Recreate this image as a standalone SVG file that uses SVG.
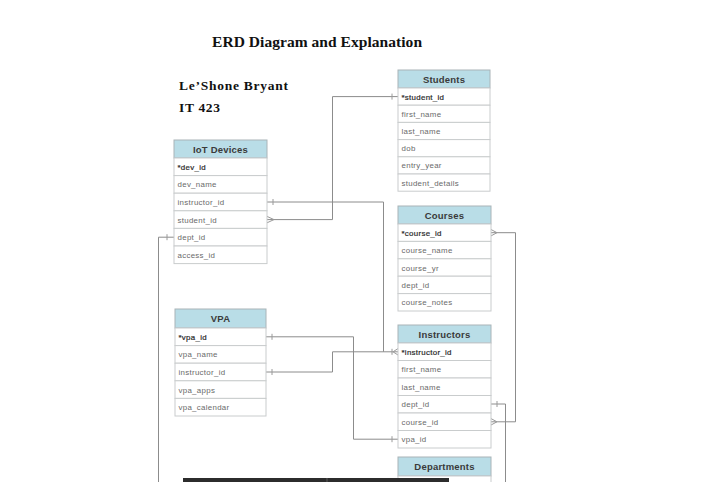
<svg xmlns="http://www.w3.org/2000/svg" width="704" height="482" viewBox="0 0 704 482">
<style>
.hdr{fill:#b9dde7;stroke:#a9b4b8;stroke-width:1}
.row{fill:#ffffff;stroke:#c9cccd;stroke-width:1}
.ht{font-family:"Liberation Sans",Arial,sans-serif;font-size:9.5px;font-weight:bold;fill:#3a3a3a;text-anchor:middle;letter-spacing:0.2px}
.rt{font-family:"Liberation Sans",Arial,sans-serif;font-size:7.9px;fill:#6a6a6a;letter-spacing:0.3px}
.kt{font-family:"Liberation Sans",Arial,sans-serif;font-size:7.9px;fill:#2a2a2a;stroke:#2a2a2a;stroke-width:0.2;letter-spacing:0.3px}
.ttl{font-family:"Liberation Serif","Times New Roman",serif;font-weight:bold;fill:#111}
.ln{fill:none;stroke:#8c8c8c;stroke-width:1}
.mk{fill:none;stroke:#9a9a9a;stroke-width:1}
</style>
<rect width="704" height="482" fill="#ffffff"/>
<text class="ttl" x="212" y="47" font-size="15.5" textLength="210">ERD Diagram and Explanation</text>
<text class="ttl" x="179" y="89.5" font-size="13.5" textLength="109">Le’Shone Bryant</text>
<text class="ttl" x="179" y="112" font-size="13.5" textLength="41">IT 423</text>

<g id="connectors">
  <!-- Students.student_id -> IoT.student_id -->
  <path class="ln" d="M398,96.6 H332.5 V219.6 H267"/>
  <path class="mk" d="M392,93.6 V99.6 M267,216.4 L274,219.6 L267,222.8"/>
  <!-- IoT.instructor_id -> Instructors.instructor_id -->
  <path class="ln" d="M267,202 H383.5 V351.8 H398"/>
  <path class="mk" d="M273,199 V205 M392,348.8 V354.8 M398,348.6 L393,351.8 L398,355"/>
  <!-- VPA.instructor_id -> Instructors.instructor_id -->
  <path class="ln" d="M266,372 H332.5 V351.8 H383.5"/>
  <path class="mk" d="M272,369 V375"/>
  <!-- VPA.vpa_id -> Instructors.vpa_id -->
  <path class="ln" d="M266,336.8 H353.5 V439.2 H398"/>
  <path class="mk" d="M272,333.8 V339.8 M392,436.2 V442.2"/>
  <!-- Courses.course_id -> Instructors.course_id -->
  <path class="ln" d="M491,232.7 H515.5 V421.8 H491"/>
  <path class="mk" d="M491,229.5 L497,232.7 L491,235.9 M491,418.6 L497,421.8 L491,425"/>
  <!-- Instructors.dept_id -> Departments -->
  <path class="ln" d="M491,404 H505.5 V482"/>
  <path class="mk" d="M497,401 V407"/>
  <!-- IoT.dept_id -> Departments -->
  <path class="ln" d="M174,237.2 H158.5 V482"/>
  <path class="mk" d="M167,234.2 V240.2"/>
</g>

<g id="students">
  <rect class="hdr" x="398" y="70" width="92" height="18"/>
  <text class="ht" x="444" y="82.5">Students</text>
  <rect class="row" x="398" y="88" width="92" height="17.2"/>
  <rect class="row" x="398" y="105.2" width="92" height="17.2"/>
  <rect class="row" x="398" y="122.4" width="92" height="17.2"/>
  <rect class="row" x="398" y="139.6" width="92" height="17.2"/>
  <rect class="row" x="398" y="156.8" width="92" height="17.2"/>
  <rect class="row" x="398" y="174" width="92" height="17.2"/>
  <text class="kt" x="401.5" y="99.6">*student_id</text>
  <text class="rt" x="401.5" y="116.8">first_name</text>
  <text class="rt" x="401.5" y="134">last_name</text>
  <text class="rt" x="401.5" y="151.2">dob</text>
  <text class="rt" x="401.5" y="168.4">entry_year</text>
  <text class="rt" x="401.5" y="185.6">student_details</text>
</g>

<g id="iot-devices">
  <rect class="hdr" x="174" y="140" width="93" height="18"/>
  <text class="ht" x="220.5" y="152.5">IoT Devices</text>
  <rect class="row" x="174" y="158" width="93" height="17.6"/>
  <rect class="row" x="174" y="175.6" width="93" height="17.6"/>
  <rect class="row" x="174" y="193.2" width="93" height="17.6"/>
  <rect class="row" x="174" y="210.8" width="93" height="17.6"/>
  <rect class="row" x="174" y="228.4" width="93" height="17.6"/>
  <rect class="row" x="174" y="246" width="93" height="17.6"/>
  <text class="kt" x="177.5" y="169.8">*dev_id</text>
  <text class="rt" x="177.5" y="187.4">dev_name</text>
  <text class="rt" x="177.5" y="205">instructor_id</text>
  <text class="rt" x="177.5" y="222.6">student_id</text>
  <text class="rt" x="177.5" y="240.2">dept_id</text>
  <text class="rt" x="177.5" y="257.8">access_id</text>
</g>

<g id="courses">
  <rect class="hdr" x="398" y="206" width="93" height="18"/>
  <text class="ht" x="444.5" y="218.5">Courses</text>
  <rect class="row" x="398" y="224" width="93" height="17.4"/>
  <rect class="row" x="398" y="241.4" width="93" height="17.4"/>
  <rect class="row" x="398" y="258.8" width="93" height="17.4"/>
  <rect class="row" x="398" y="276.2" width="93" height="17.4"/>
  <rect class="row" x="398" y="293.6" width="93" height="17.4"/>
  <text class="kt" x="401.5" y="235.7">*course_id</text>
  <text class="rt" x="401.5" y="253.1">course_name</text>
  <text class="rt" x="401.5" y="270.5">course_yr</text>
  <text class="rt" x="401.5" y="287.9">dept_id</text>
  <text class="rt" x="401.5" y="305.3">course_notes</text>
</g>

<g id="vpa">
  <rect class="hdr" x="175" y="309" width="91" height="19"/>
  <text class="ht" x="220.5" y="322">VPA</text>
  <rect class="row" x="175" y="328" width="91" height="17.6"/>
  <rect class="row" x="175" y="345.6" width="91" height="17.6"/>
  <rect class="row" x="175" y="363.2" width="91" height="17.6"/>
  <rect class="row" x="175" y="380.8" width="91" height="17.6"/>
  <rect class="row" x="175" y="398.4" width="91" height="17.6"/>
  <text class="kt" x="178.5" y="339.8">*vpa_id</text>
  <text class="rt" x="178.5" y="357.4">vpa_name</text>
  <text class="rt" x="178.5" y="375">instructor_id</text>
  <text class="rt" x="178.5" y="392.6">vpa_apps</text>
  <text class="rt" x="178.5" y="410.2">vpa_calendar</text>
</g>

<g id="instructors">
  <rect class="hdr" x="398" y="325" width="93" height="18"/>
  <text class="ht" x="444.5" y="337.5">Instructors</text>
  <rect class="row" x="398" y="343" width="93" height="17.5"/>
  <rect class="row" x="398" y="360.5" width="93" height="17.5"/>
  <rect class="row" x="398" y="378" width="93" height="17.5"/>
  <rect class="row" x="398" y="395.5" width="93" height="17.5"/>
  <rect class="row" x="398" y="413" width="93" height="17.5"/>
  <rect class="row" x="398" y="430.5" width="93" height="17.5"/>
  <text class="kt" x="401.5" y="354.8">*instructor_id</text>
  <text class="rt" x="401.5" y="372.3">first_name</text>
  <text class="rt" x="401.5" y="389.8">last_name</text>
  <text class="rt" x="401.5" y="407.3">dept_id</text>
  <text class="rt" x="401.5" y="424.8">course_id</text>
  <text class="rt" x="401.5" y="442.3">vpa_id</text>
</g>

<g id="departments">
  <rect class="hdr" x="398" y="457" width="93" height="19"/>
  <text class="ht" x="444.5" y="470">Departments</text>
  <rect class="row" x="398" y="476" width="93" height="17.5"/>
</g>

<rect x="183" y="478" width="266" height="6" fill="#2c2c2c"/>
<line x1="327" y1="478" x2="327" y2="482" stroke="#5a5a5a" stroke-width="1"/>
</svg>
